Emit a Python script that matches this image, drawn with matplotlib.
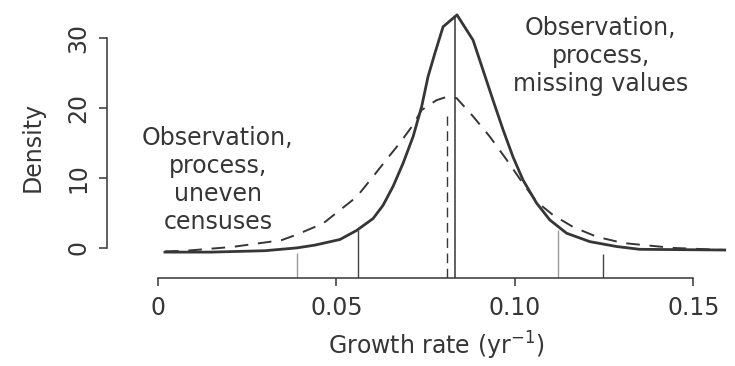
import numpy as np
import matplotlib
matplotlib.use("Agg")
import matplotlib.pyplot as plt

# posterior densities of the growth rate
# solid: observation, process, missing values
solid_x = [0.002, 0.015, 0.030, 0.0389, 0.044, 0.051, 0.0557, 0.0603, 0.0631,
           0.0659, 0.0687, 0.0715, 0.0739, 0.0757, 0.0776, 0.0799, 0.0838,
           0.0883, 0.0911, 0.0939, 0.0967, 0.0995, 0.1023, 0.1061, 0.1098,
           0.1145, 0.121, 0.1285, 0.135, 0.1588]
solid_y = [-0.6, -0.6, -0.4, 0.0, 0.4, 1.2, 2.5, 4.2, 6.1,
           8.8, 12.1, 15.9, 20.2, 24.5, 27.8, 31.6, 33.3,
           29.7, 25.4, 21.1, 16.9, 13.0, 9.7, 6.4, 4.0,
           2.1, 0.9, 0.2, -0.2, -0.3]
# dashed: observation, process, uneven censuses
dash_x = [0.002, 0.008, 0.021, 0.0346, 0.0389, 0.0463, 0.051, 0.0557, 0.0603,
          0.064, 0.0678, 0.0711, 0.0739, 0.078, 0.081, 0.0837, 0.0883, 0.093,
          0.0977, 0.1023, 0.1061, 0.1107, 0.1163, 0.1229, 0.1303, 0.1443, 0.1588]
dash_y = [-0.5, -0.4, 0.15, 1.1, 1.9, 3.5, 5.4, 7.3, 10.2,
          12.6, 15.0, 17.3, 19.7, 21.1, 21.6, 21.4, 18.8, 15.9,
          12.6, 9.2, 6.6, 4.7, 3.0, 1.6, 0.7, 0.0, -0.3]

# medians and interval limits (vertical lines)
med_solid = 0.0832
med_dash = 0.081
med_dash_top = 18.8
ci_x = [0.0389, 0.0561, 0.1121, 0.1247]
ci_top = [-0.7, 2.6, 2.6, -0.8]
ci_col = ['#9a9a9a', '#444444', '#9a9a9a', '#444444']

xticks = [0, 0.05, 0.10, 0.15]
xtick_labels = ['0', '0.05', '0.10', '0.15']
yticks = [0, 10, 20, 30]

plt.rcParams['font.family'] = ['DejaVu Sans']
ink = '#363636'

fig = plt.figure(figsize=(7.35, 3.66), dpi=100)
ax = fig.add_axes([140/735, 88/366, 589/735, 268/366])
ybot = -4.3
ax.set_xlim(-0.005, 0.16)
ax.set_ylim(ybot, 34)

ax.plot(solid_x, solid_y, color=ink, lw=2.0)
ax.plot(dash_x, dash_y, color=ink, lw=1.4, ls=(0, (7, 5)))

ax.vlines(med_solid, ybot, np.interp(med_solid, solid_x, solid_y), color=ink, lw=1.1)
ax.vlines(med_dash, ybot, med_dash_top, color=ink, lw=1.0, linestyles=(0, (7, 4)))
for x, t, c in zip(ci_x, ci_top, ci_col):
    ax.vlines(x, ybot, t, color=c, lw=1.0)

for s in ['top', 'right']:
    ax.spines[s].set_visible(False)
ax.spines['left'].set_position(('outward', 23.8))
ax.spines['left'].set_bounds(0, 30)
ax.spines['bottom'].set_bounds(0, 0.15)
for s in ['left', 'bottom']:
    ax.spines[s].set_color(ink)
    ax.spines[s].set_linewidth(1.1)

ax.set_xticks(xticks)
ax.set_xticklabels(xtick_labels)
ax.set_yticks(yticks)
ax.tick_params(axis='both', colors=ink, labelcolor=ink, labelsize=17,
               length=6, width=1.1)
ax.tick_params(axis='x', pad=7)
ax.tick_params(axis='y', pad=6)
for lab in ax.get_yticklabels():
    lab.set_rotation(90)
    lab.set_va('center')

ax.set_xlabel('Growth rate (yr$^{-1}$)', fontsize=17, color=ink)
ax.xaxis.label.set_va('baseline')
ax.xaxis.set_label_coords(0.5025, -0.287)
ax.set_ylabel('Density', fontsize=17, color=ink)
ax.yaxis.label.set_va('center')
ax.yaxis.set_label_coords(-0.1817, 0.489)

ax.text(0.0168, 9.7, 'Observation,\nprocess,\nuneven\ncensuses', ha='center',
        va='center', multialignment='center', fontsize=17, color=ink, linespacing=1.2)
ax.text(0.1241, 27.4, 'Observation,\nprocess,\nmissing values', ha='center',
        va='center', multialignment='center', fontsize=17, color=ink, linespacing=1.2)

fig.savefig('out.png', dpi=100)
